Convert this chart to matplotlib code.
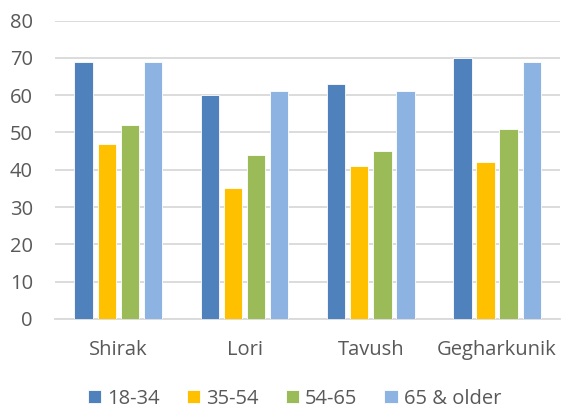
import numpy as np
import matplotlib.pyplot as plt

# Data
regions = ["Shirak", "Lori", "Tavush", "Gegharkunik"]
age_groups = ["18-34", "35-54", "54-65", "65 & older"]
v_18_34 = [69, 60, 63, 70]
v_35_54 = [47, 35, 41, 42]
v_54_65 = [52, 44, 45, 51]
v_65_up = [69, 61, 61, 69]
colors = ["#4F81BD", "#FFC000", "#9BBB59", "#8DB3E2"]

plt.rcParams['font.family'] = ['Open Sans', 'DejaVu Sans']
text_col = "#595959"
fs = 14.5

fig = plt.figure(figsize=(5.63, 4.13), dpi=100)
ax = fig.add_axes([0.098, 0.228, 0.897, 0.722])

x = np.arange(len(regions))
pitch = 0.183
width = 0.145
series = [v_18_34, v_35_54, v_54_65, v_65_up]
for i, vals in enumerate(series):
    ax.bar(x + (i - 1.5) * pitch, vals, width, color=colors[i],
           edgecolor="white", linewidth=0.6, label=age_groups[i], zorder=3)

ax.set_xlim(-0.5, 3.5)
ax.set_ylim(0, 80)
ax.set_yticks(range(0, 81, 10))
ax.set_xticks(x)
ax.set_xticklabels(regions)
ax.yaxis.grid(True, color="#D9D9D9", linewidth=1.3, zorder=0)
for s in ["top", "right", "left"]:
    ax.spines[s].set_visible(False)
ax.spines["bottom"].set_color("#D9D9D9")
ax.spines["bottom"].set_linewidth(1.3)
ax.tick_params(axis="both", length=0, labelsize=fs, colors=text_col)
ax.tick_params(axis="x", pad=15)
ax.tick_params(axis="y", pad=16)

leg = fig.legend(loc="center", bbox_to_anchor=(0.523, 0.035), ncol=4,
                 frameon=False, fontsize=fs, handlelength=0.65, handleheight=0.65,
                 handletextpad=0.3, columnspacing=1.35, borderpad=0)
for t in leg.get_texts():
    t.set_color(text_col)

fig.savefig("out.png", dpi=100)
